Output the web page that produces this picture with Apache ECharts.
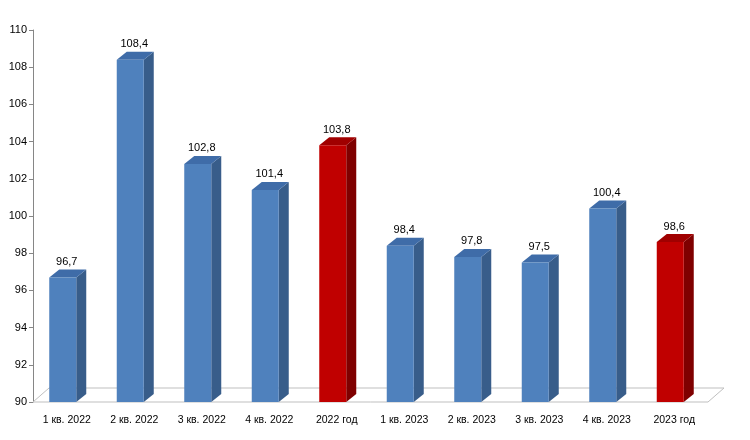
<!DOCTYPE html>
<html><head><meta charset="utf-8">
<script src="https://cdn.jsdelivr.net/npm/echarts@6/dist/echarts.min.js"></script>
<style>body{margin:0}#c{width:750px;height:440px}</style></head>
<body><div id="c"></div>
<script>
const categories=['1 кв. 2022','2 кв. 2022','3 кв. 2022','4 кв. 2022','2022 год','1 кв. 2023','2 кв. 2023','3 кв. 2023','4 кв. 2023','2023 год'];
const values=[96.7,108.4,102.8,101.4,103.8,98.4,97.8,97.5,100.4,98.6];
const isYear=[false,false,false,false,true,false,false,false,false,true];
const chart=echarts.init(document.getElementById('c'));
const DX=10,DY=8,BW=27;
function renderItem(params,api){
  const i=api.value(0),v=api.value(1);
  const top=api.coord([i,v]),base=api.coord([i,90]);
  const x0=top[0]-BW/2-4,x1=x0+BW;
  const red=isYear[i];
  const front=red?'#C00000':'#4F81BD',side=red?'#7F0000':'#385D8A',tp=red?'#A00000':'#3F6CA8';
  const ch=[];
  if(i===0){
    const cs=params.coordSys;
    ch.push({type:'polygon',shape:{points:[[cs.x,base[1]],[cs.x+cs.width,base[1]],[cs.x+cs.width+DX+6,base[1]-DY-6],[cs.x+DX+6,base[1]-DY-6]]},style:{fill:'#fff',stroke:'#bfbfbf',lineWidth:1},z2:0});
  }
  ch.push({type:'polygon',shape:{points:[[x1,top[1]],[x1+DX,top[1]-DY],[x1+DX,base[1]-DY],[x1,base[1]]]},style:{fill:side},z2:5});
  ch.push({type:'polygon',shape:{points:[[x0,top[1]],[x0+DX,top[1]-DY],[x1+DX,top[1]-DY],[x1,top[1]]]},style:{fill:tp},z2:5});
  ch.push({type:'rect',shape:{x:x0,y:top[1],width:BW,height:base[1]-top[1]},style:{fill:front},z2:6});
  ch.push({type:'text',style:{text:String(v).replace('.',','),x:x0+BW/2+4,y:top[1]-DY-2,align:'center',verticalAlign:'bottom',fill:'#000',font:'11px "Liberation Sans"'},z2:7});
  return {type:'group',children:ch};
}
chart.setOption({
  animation:false,
  grid:{left:33,right:42,top:30,bottom:38},
  xAxis:{type:'category',data:categories,axisLine:{show:false},axisTick:{show:false},axisLabel:{color:'#000',fontSize:10.5,fontFamily:'Liberation Sans',margin:13}},
  yAxis:{type:'value',min:90,max:110,interval:2,axisLine:{show:true,lineStyle:{color:'#868686'}},axisTick:{show:true,length:4,lineStyle:{color:'#868686'}},splitLine:{show:false},axisLabel:{color:'#000',fontSize:11,fontFamily:'Liberation Sans',margin:6}},
  series:[{type:'custom',renderItem:renderItem,data:values.map((v,i)=>[i,v]),encode:{x:0,y:1}}]
});
</script></body></html>
